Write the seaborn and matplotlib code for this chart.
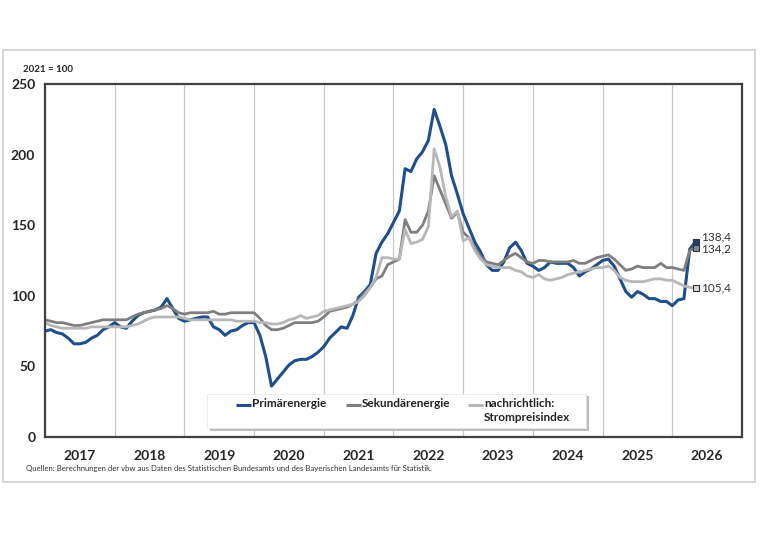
import numpy as np
import pandas as pd
import matplotlib
matplotlib.use("Agg")
import matplotlib.pyplot as plt
import seaborn as sns
from matplotlib.patches import Rectangle

# monthly index values (2021 = 100), starting January 2017
primaer = [75, 76, 74, 73, 70, 66, 66, 67, 70, 72, 76, 78,
           81, 78, 77, 82, 86, 88, 89, 90, 92, 98, 91, 84,
           82, 83, 84, 85, 85, 78, 76, 72, 75, 76, 79, 81,
           81, 72, 57, 36, 41, 46, 51, 54, 55, 55, 57, 60,
           64, 70, 74, 78, 77, 86, 99, 103, 108, 130, 138, 144,
           152, 160, 190, 188, 197, 202, 210, 232, 220, 207, 185, 172,
           158, 148, 138, 131, 122, 118, 118, 124, 134, 138, 132, 123,
           121, 118, 120, 124, 123, 123, 123, 120, 114, 117, 119, 122,
           125, 126, 121, 112, 103, 99, 103, 101, 98, 98, 96, 96,
           93, 97, 98, 133, 138.4]

sekundaer = [83, 82, 81, 81, 80, 79, 79, 80, 81, 82, 83, 83,
             83, 83, 83, 85, 87, 88, 89, 90, 91, 93, 91, 88,
             87, 88, 88, 88, 88, 89, 87, 87, 88, 88, 88, 88,
             88, 84, 79, 76, 76, 77, 79, 81, 81, 81, 81, 82,
             85, 89, 90, 91, 92, 94, 97, 102, 106, 112, 114, 122,
             124, 126, 154, 145, 145, 150, 160, 185, 175, 165, 155, 159,
             145, 141, 134, 128, 124, 123, 122, 125, 128, 130, 127, 124,
             123, 125, 125, 124, 124, 124, 124, 125, 123, 123, 125, 127,
             128, 129, 126, 122, 118, 119, 121, 120, 120, 120, 123, 120,
             120, 119, 118, 132, 134.2]

strom = [81, 79, 78, 77, 77, 77, 77, 77, 78, 78, 78, 78,
         78, 78, 78, 79, 80, 82, 84, 85, 85, 85, 85, 85,
         84, 83, 83, 83, 83, 83, 83, 83, 83, 82, 82, 82,
         82, 81, 81, 80, 80, 81, 83, 84, 86, 84, 85, 86,
         89, 90, 91, 92, 93, 94, 96, 100, 106, 113, 127, 127,
         126, 126, 147, 137, 138, 140, 149, 204, 191, 170, 156, 160,
         139, 141, 132, 126, 122, 121, 120, 120, 120, 118, 117, 114,
         113, 115, 112, 111, 112, 113, 115, 116, 117, 118, 119, 120,
         120, 121, 118, 113, 111, 110, 110, 110, 111, 112, 112, 111,
         111, 109, 107, 106, 105.4]

years = list(range(2017, 2027))
series_names = ["Primärenergie", "Sekundärenergie", "nachrichtlich:\nStrompreisindex"]
colors = ["#1F4E8C", "#7F7F7F", "#B7B7B7"]
end_labels = ["138,4", "134,2", "105,4"]

t = 2017 + np.arange(len(primaer)) / 12
df = pd.DataFrame({"t": np.concatenate([t, t, t]),
                   "wert": primaer + sekundaer + strom,
                   "reihe": np.repeat(series_names, len(t))})

sns.set_style("white")
plt.rcParams["font.family"] = ["Lato", "DejaVu Sans"]

fig = plt.figure(figsize=(7.6, 5.37), dpi=100)
ax = fig.add_axes([45 / 760, 100 / 537, 697 / 760, 353 / 537])


def fx(px):
    return (px - 45) / 697


def fy(py):
    return (437 - py) / 353


# outer light frame
fig.patches.append(Rectangle((3 / 760, 55 / 537), 752 / 760, 432 / 537,
                             transform=fig.transFigure, fill=False,
                             edgecolor="#D0D0D0", linewidth=1.2))

sns.lineplot(data=df, x="t", y="wert", hue="reihe", hue_order=series_names,
             palette=colors, ax=ax, linewidth=2.0, legend=False)
for ln, lw in zip(ax.lines, [2.2, 2.0, 2.0]):
    ln.set_linewidth(lw)
    ln.set_solid_joinstyle("round")

# end markers and labels
ends = [primaer[-1], sekundaer[-1], strom[-1]]
mfaces = ["#1F3F72", "#7F8A96", "#D9D9D9"]
offsets = [3.5, -1, 0]
for val, fc, lab, dy in zip(ends, mfaces, end_labels, offsets):
    ax.plot(t[-1], val, marker="s", markersize=5, markerfacecolor=fc,
            markeredgecolor="#333333", markeredgewidth=0.8, zorder=5)
    ax.annotate(lab, (t[-1], val), xytext=(4, dy), textcoords="offset points",
                va="center", ha="left", fontsize=8.5, color="#333333")

ax.set_xlim(2017, 2027)
ax.set_ylim(0, 250)
ax.set_yticks(range(0, 251, 50))
ax.set_xticks(range(2017, 2028))
ax.set_xticklabels([])
ax.set_xticks([y + 0.5 for y in years], minor=True)
ax.set_xticklabels([str(y) for y in years], minor=True, fontweight="bold", fontsize=10)
ax.tick_params(axis="x", which="minor", length=0, pad=9)
ax.tick_params(axis="x", which="major", length=5, width=1, color="#555555", direction="out")
ax.tick_params(axis="y", length=3, width=1, color="#555555", direction="out", pad=4)
for lab in ax.get_yticklabels():
    lab.set_fontweight("bold")
    lab.set_fontsize(10)
ax.grid(axis="x", which="major", color="#C8C8C8", linewidth=0.9)
ax.set_xlabel("")
ax.set_ylabel("")
for sp in ax.spines.values():
    sp.set_visible(True)
    sp.set_color("#404040")
    sp.set_linewidth(1.6)

# legend box with shadow, drawn by hand so the handle sits on the first text line
ax.add_patch(Rectangle((fx(210), fy(431)), fx(589) - fx(210), fy(396) - fy(431),
                       transform=ax.transAxes, facecolor="#BDBDBD",
                       edgecolor="none", zorder=6))
ax.add_patch(Rectangle((fx(207), fy(428)), fx(586) - fx(207), fy(394) - fy(428),
                       transform=ax.transAxes, facecolor="white",
                       edgecolor="#E6E6E6", linewidth=0.5, zorder=7))
handle_x = [(236, 251), (346, 361), (468, 483)]
for (x0, x1), c, name in zip(handle_x, colors, series_names):
    ax.plot([fx(x0), fx(x1)], [fy(405), fy(405)], transform=ax.transAxes,
            color=c, linewidth=2.2, solid_capstyle="butt", zorder=8)
    ax.text(fx(x1 + 1), fy(398), name, transform=ax.transAxes, ha="left",
            va="top", fontsize=8.5, fontweight="bold", linespacing=1.35,
            color="#222222", zorder=8)

fig.text(23 / 760, 1 - 69 / 537, "2021 = 100", fontsize=7, fontweight="bold",
         va="center", ha="left")
fig.text(26 / 760, 1 - 468 / 537,
         "Quellen: Berechnungen der vbw aus Daten des Statistischen Bundesamts "
         "und des Bayerischen Landesamts für Statistik.",
         fontsize=5.6, color="#333333", va="center", ha="left")

fig.savefig("out.png", dpi=100, facecolor="white")
